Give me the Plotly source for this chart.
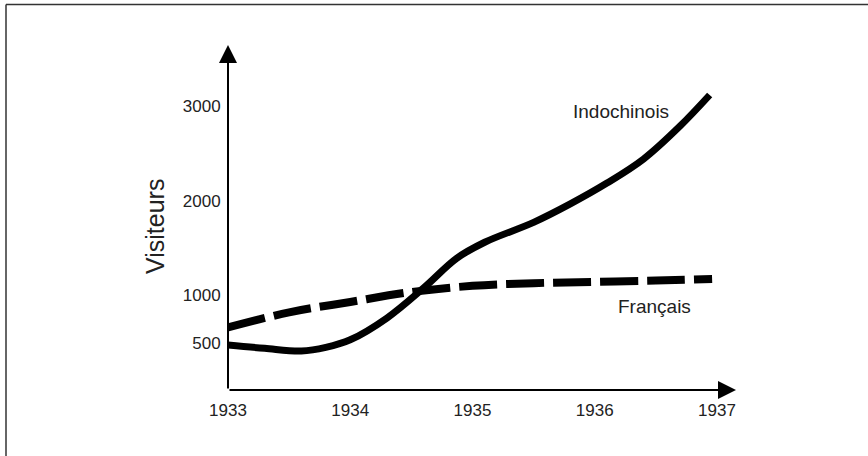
import plotly.graph_objects as go

# Data
years_ticks = [1933, 1934, 1935, 1936, 1937]
visitor_ticks = [500, 1000, 2000, 3000]

indo_x = [1933.0, 1933.3, 1933.6, 1933.8, 1934.0, 1934.3, 1934.6, 1934.87, 1935.1,
          1935.5, 1935.8, 1936.1, 1936.4, 1936.7, 1936.94]
indo_y = [475, 440, 412, 450, 530, 760, 1077, 1390, 1560,
          1770, 1965, 2185, 2440, 2790, 3115]

fr_x = [1933.0, 1933.5, 1934.0, 1934.5, 1935.0, 1935.5, 1936.0, 1936.5, 1936.96]
fr_y = [660, 820, 930, 1035, 1100, 1128, 1142, 1155, 1172]

label_indo = "Indochinois"
label_fr = "Français"
y_title = "Visiteurs"

FONT = "Liberation Sans, Arial, sans-serif"
TXT = "#222222"

fig = go.Figure()
fig.add_trace(go.Scatter(x=fr_x, y=fr_y, mode="lines",
                         line=dict(color="black", width=8, dash="38px,9px", shape="spline", smoothing=1),
                         hoverinfo="skip", showlegend=False))
fig.add_trace(go.Scatter(x=indo_x, y=indo_y, mode="lines",
                         line=dict(color="black", width=7, shape="spline", smoothing=1),
                         hoverinfo="skip", showlegend=False))

W, H = 868, 456
L, R, T, B = 228, 132, 45, 66
pw, ph = W - L - R, H - T - B
px_per_year = 122.25
px_per_1000 = 94.7

fig.update_layout(
    width=W, height=H,
    margin=dict(l=L, r=R, t=T, b=B, pad=0),
    paper_bgcolor="white", plot_bgcolor="white",
    hovermode=False,
    xaxis=dict(range=[1933, 1933 + pw / px_per_year], tickvals=years_ticks,
               ticktext=[str(v) for v in years_ticks],
               showgrid=False, zeroline=False, showline=False,
               ticks="outside", ticklen=5, tickcolor="rgba(0,0,0,0)",
               tickfont=dict(family=FONT, size=17, color=TXT)),
    yaxis=dict(range=[0, ph / px_per_1000 * 1000], tickvals=visitor_ticks,
               ticktext=[str(v) for v in visitor_ticks],
               showgrid=False, zeroline=False, showline=False,
               ticks="outside", ticklen=3, tickcolor="rgba(0,0,0,0)",
               tickfont=dict(family=FONT, size=17, color=TXT)),
)

# Axis arrows
fig.add_annotation(x=1, y=0, xref="paper", yref="paper", ax=-pw, ay=0,
                   axref="pixel", ayref="pixel", showarrow=True, arrowhead=2,
                   arrowwidth=2, arrowsize=1.8, arrowcolor="black", text="")
fig.add_annotation(x=0, y=1, xref="paper", yref="paper", ax=0, ay=ph,
                   axref="pixel", ayref="pixel", showarrow=True, arrowhead=2,
                   arrowwidth=2, arrowsize=1.8, arrowcolor="black", text="")

# Series labels
fig.add_annotation(x=1936.215, y=2936, xref="x", yref="y", text=label_indo,
                   showarrow=False, xanchor="center", yanchor="middle",
                   font=dict(family=FONT, size=19, color=TXT))
fig.add_annotation(x=1936.49, y=887, xref="x", yref="y", text=label_fr,
                   showarrow=False, xanchor="center", yanchor="middle",
                   font=dict(family=FONT, size=19, color=TXT))

# Y title
fig.add_annotation(x=(155 - L) / pw, y=(H - B - 227) / ph, xref="paper", yref="paper",
                   text=y_title, textangle=-90, showarrow=False,
                   xanchor="center", yanchor="middle",
                   font=dict(family=FONT, size=25, color=TXT))

# Outer frame (top and left edges visible)
fx0 = (6 - L) / pw
fy1 = (H - B - 4.5) / ph
fig.add_shape(type="line", xref="paper", yref="paper", x0=fx0, x1=(W + 10 - L) / pw,
              y0=fy1, y1=fy1, line=dict(color="#333333", width=1.5))
fig.add_shape(type="line", xref="paper", yref="paper", x0=fx0, x1=fx0,
              y0=fy1, y1=(H - B - H - 10) / ph, line=dict(color="#333333", width=1.5))

fig.write_html("out.html", config={"displayModeBar": False, "staticPlot": True},
               post_script="document.body.style.margin='0';")
